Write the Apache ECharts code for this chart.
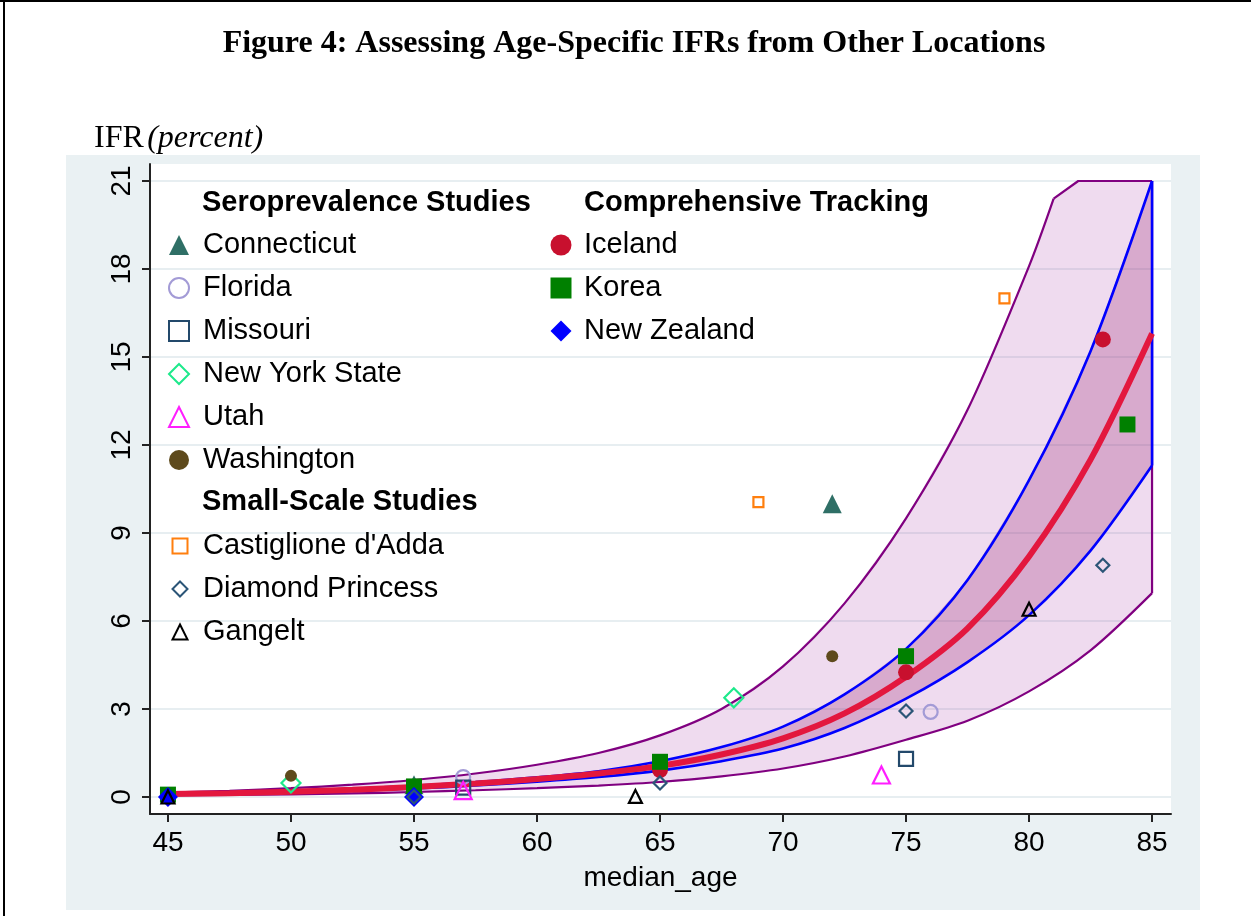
<!DOCTYPE html>
<html>
<head>
<meta charset="utf-8">
<title>Figure 4</title>
<script src="https://cdn.jsdelivr.net/npm/echarts@6/dist/echarts.min.js"></script>
<style>
html, body { margin: 0; padding: 0; background: #fff; }
#chart { width: 1251px; height: 916px; }
</style>
</head>
<body>
<div id="chart"></div>
<script>
// axis ticks
var xTicks = [45, 50, 55, 60, 65, 70, 75, 80, 85];
var yTicks = [0, 3, 6, 9, 12, 15, 18, 21];

// fitted curve and bands
var ages = [45, 47.5, 50, 52.5, 55, 57.5, 60, 62.5, 65, 67.5, 70, 72.5, 75, 77.5, 80, 82.5, 85];
var ifrFit = [0.10, 0.13, 0.18, 0.25, 0.34, 0.46, 0.61, 0.8, 1.06, 1.45, 2.0, 2.85, 4.1, 5.75, 8.2, 11.5, 15.8];
var ciHigh = [0.12, 0.16, 0.21, 0.28, 0.38, 0.51, 0.67, 0.88, 1.22, 1.7, 2.4, 3.5, 5.05, 7.4, 10.8, 15.2, 21.0];
var ciLow = [0.08, 0.11, 0.15, 0.21, 0.29, 0.39, 0.52, 0.68, 0.9, 1.22, 1.65, 2.35, 3.35, 4.6, 6.2, 8.4, 11.3];
var piLow = [0.05, 0.07, 0.09, 0.12, 0.17, 0.23, 0.3, 0.39, 0.51, 0.7, 0.97, 1.38, 1.95, 2.6, 3.6, 5.0, 6.95];
// upper prediction band is cut at 21
var piHighAges = [45, 47.5, 50, 52.5, 55, 57.5, 60, 62.5, 65, 67.5, 70, 72.5, 75, 77.5, 80, 81, 82, 85];
var piHigh = [0.15, 0.21, 0.3, 0.42, 0.58, 0.8, 1.1, 1.5, 2.1, 3.0, 4.45, 6.6, 9.5, 13.2, 18.1, 20.4, 21, 21];

// studies: [median_age, IFR]
var connecticut = [[55, 0.42], [72, 10.0]];
var florida = [[57, 0.68], [76, 2.9]];
var missouri = [[57, 0.32], [75, 1.3]];
var newYork = [[50, 0.48], [68, 3.38]];
var utah = [[57, 0.22], [74, 0.75]];
var washington = [[50, 0.72], [72, 4.8]];
var castiglione = [[69, 10.05], [79, 17.0]];
var diamondPrincess = [[55, 0], [65, 0.48], [75, 2.93], [83, 7.9]];
var gangelt = [[45, 0], [64, 0.02], [80, 6.4]];
var iceland = [[65, 0.92], [75, 4.25], [83, 15.6]];
var korea = [[45, 0.08], [55, 0.36], [65, 1.2], [75, 4.8], [84, 12.7]];
var newZealand = [[45, 0], [55, 0]];

var sans = 'Liberation Sans, Arial, Helvetica, sans-serif';
var serif = 'Liberation Serif, Times New Roman, serif';

function pairs(xs, ys) {
    return xs.map(function (x, i) { return [x, ys[i]]; });
}

//区域带
function band(hiX, hiY, loX, loY, fill) {
    return {
        type: 'custom',
        silent: true,
        z: 1,
        data: [[65, 5]],
        renderItem: function (params, api) {
            var pts = [];
            for (var i = 0; i < hiX.length; i++) pts.push(api.coord([hiX[i], hiY[i]]));
            for (var j = loX.length - 1; j >= 0; j--) pts.push(api.coord([loX[j], loY[j]]));
            return {type: 'polygon', shape: {points: pts}, style: {fill: fill}};
        }
    };
}

function curve(data, color, width, z, smooth) {
    return {
        type: 'line',
        data: data,
        smooth: smooth === undefined ? 0.3 : smooth,
        showSymbol: false,
        silent: true,
        z: z,
        lineStyle: {color: color, width: width}
    };
}

function dots(name, data, symbol, size, color, hollow) {
    return {
        name: name,
        type: 'scatter',
        data: data,
        symbol: symbol,
        symbolSize: size,
        z: 5,
        itemStyle: hollow ? {color: 'rgba(0,0,0,0)', borderColor: color, borderWidth: 2.2, opacity: 1}
                          : {color: color, opacity: 1}
    };
}

var n = ages.length - 1;
var m = piHighAges.length - 1;
var piHighPts = pairs(piHighAges, piHigh);

var series = [
    band(piHighAges, piHigh, ages, piLow, 'rgba(160,40,160,0.17)'),
    band(ages, ciHigh, ages, ciLow, 'rgba(150,30,110,0.26)'),
    curve(piHighPts.slice(0, m - 1), '#800080', 2.2, 2),
    curve(piHighPts.slice(m - 2), '#800080', 2.2, 2, false),
    curve(pairs(ages, piLow), '#800080', 2.2, 2),
    curve([[85, piLow[n]], [85, piHigh[m]]], '#800080', 2.2, 2, false),
    curve(pairs(ages, ciHigh), '#0000ff', 2.6, 2),
    curve(pairs(ages, ciLow), '#0000ff', 2.6, 2),
    curve([[85, ciLow[n]], [85, ciHigh[n]]], '#0000ff', 2.6, 2, false),
    curve(pairs(ages, ifrFit), '#e3173e', 6, 3),
    dots('Connecticut', connecticut, 'triangle', 19, '#2f6f66', false),
    dots('Florida', florida, 'circle', 14, '#a39bd6', true),
    dots('Missouri', missouri, 'rect', 14, '#23496b', true),
    dots('New York State', newYork, 'diamond', 19, '#1de98b', true),
    dots('Utah', utah, 'triangle', 17, '#ff1dff', true),
    dots('Washington', washington, 'circle', 12, '#5e4a1c', false),
    dots('Iceland', iceland, 'circle', 16, '#c8102e', false),
    dots('Korea', korea, 'rect', 16, '#008000', false),
    dots('New Zealand', newZealand, 'diamond', 20, '#0000ff', false),
    dots("Castiglione d'Adda", castiglione, 'rect', 10, '#ff7f0e', true),
    dots('Diamond Princess', diamondPrincess, 'diamond', 13, '#2b5577', true),
    dots('Gangelt', gangelt, 'triangle', 13, '#000000', true)
];

// square icon; text pushed right with padding
function legendBlock(names, iconX, top, size, textX) {
    return {
        data: names,
        orient: 'vertical',
        left: iconX - size / 2,
        top: top,
        padding: 0,
        itemWidth: size,
        itemHeight: size,
        itemGap: 43 - 30,
        selectedMode: false,
        textStyle: {
            fontFamily: sans, fontSize: 29, lineHeight: 30, color: '#000',
            padding: [0, 0, 0, textX - (iconX + size / 2 + 5)]
        }
    };
}

function header(text, x, y) {
    return {
        type: 'text',
        left: x,
        top: y - 16,
        style: {text: text, font: 'bold 29px ' + sans, fill: '#000'}
    };
}

var option = {
    animation: false,
    backgroundColor: '#fff',
    title: {
        text: 'Figure 4: Assessing Age-Specific IFRs from Other Locations',
        left: 629,
        textAlign: 'center',
        top: 23,
        textStyle: {fontFamily: serif, fontWeight: 'bold', fontSize: 32, color: '#000'}
    },
    graphic: [
        {type: 'rect', z: -20, shape: {x: 0, y: 0, width: 1251, height: 2}, style: {fill: '#000'}},
        {type: 'rect', z: -20, shape: {x: 3, y: 0, width: 2, height: 916}, style: {fill: '#000'}},
        {type: 'rect', z: -20, shape: {x: 66, y: 155, width: 1134, height: 755}, style: {fill: '#eaf1f3'}},
        {type: 'rect', z: -19, shape: {x: 150, y: 164, width: 1021, height: 650}, style: {fill: '#fff'}},
        {
            type: 'text', left: 94, top: 123,
            style: {
                text: '{a|IFR} {b|(percent)}',
                rich: {
                    a: {fontFamily: serif, fontSize: 32, fill: '#000'},
                    b: {fontFamily: serif, fontSize: 32, fontStyle: 'italic', fill: '#000'}
                }
            }
        },
        header('Seroprevalence Studies', 202, 204),
        header('Comprehensive Tracking', 584, 204),
        header('Small-Scale Studies', 202, 503)
    ],
    legend: [
        legendBlock(['Connecticut', 'Florida', 'Missouri', 'New York State', 'Utah', 'Washington'], 178, 230, 20, 202),
        legendBlock(["Castiglione d'Adda", 'Diamond Princess', 'Gangelt'], 179, 531, 15, 202),
        legendBlock(['Iceland', 'Korea', 'New Zealand'], 561, 230, 21, 584)
    ],
    grid: {left: 150, top: 164, width: 1021, height: 650, containLabel: false},
    xAxis: {
        type: 'value',
        min: 44.27,
        max: 85.77,
        name: 'median_age',
        nameLocation: 'middle',
        nameGap: 50,
        nameTextStyle: {fontFamily: sans, fontSize: 28, color: '#000'},
        axisLine: {show: true, onZero: false, lineStyle: {color: '#222', width: 2}},
        axisTick: {show: true, customValues: xTicks, length: 8, lineStyle: {color: '#222', width: 2}},
        axisLabel: {customValues: xTicks, margin: 15, fontFamily: sans, fontSize: 28, color: '#000'},
        splitLine: {show: false}
    },
    yAxis: {
        type: 'value',
        min: -0.58,
        max: 21.58,
        axisLine: {show: true, onZero: false, lineStyle: {color: '#222', width: 2}},
        axisTick: {show: true, customValues: yTicks, length: 8, lineStyle: {color: '#222', width: 2}},
        axisLabel: {customValues: yTicks, rotate: 90, margin: 14, fontFamily: sans, fontSize: 28, color: '#000'},
        splitLine: {show: true, lineStyle: {color: '#e7eef1', width: 2}}
    },
    series: series
};

echarts.init(document.getElementById('chart')).setOption(option);
</script>
</body>
</html>
